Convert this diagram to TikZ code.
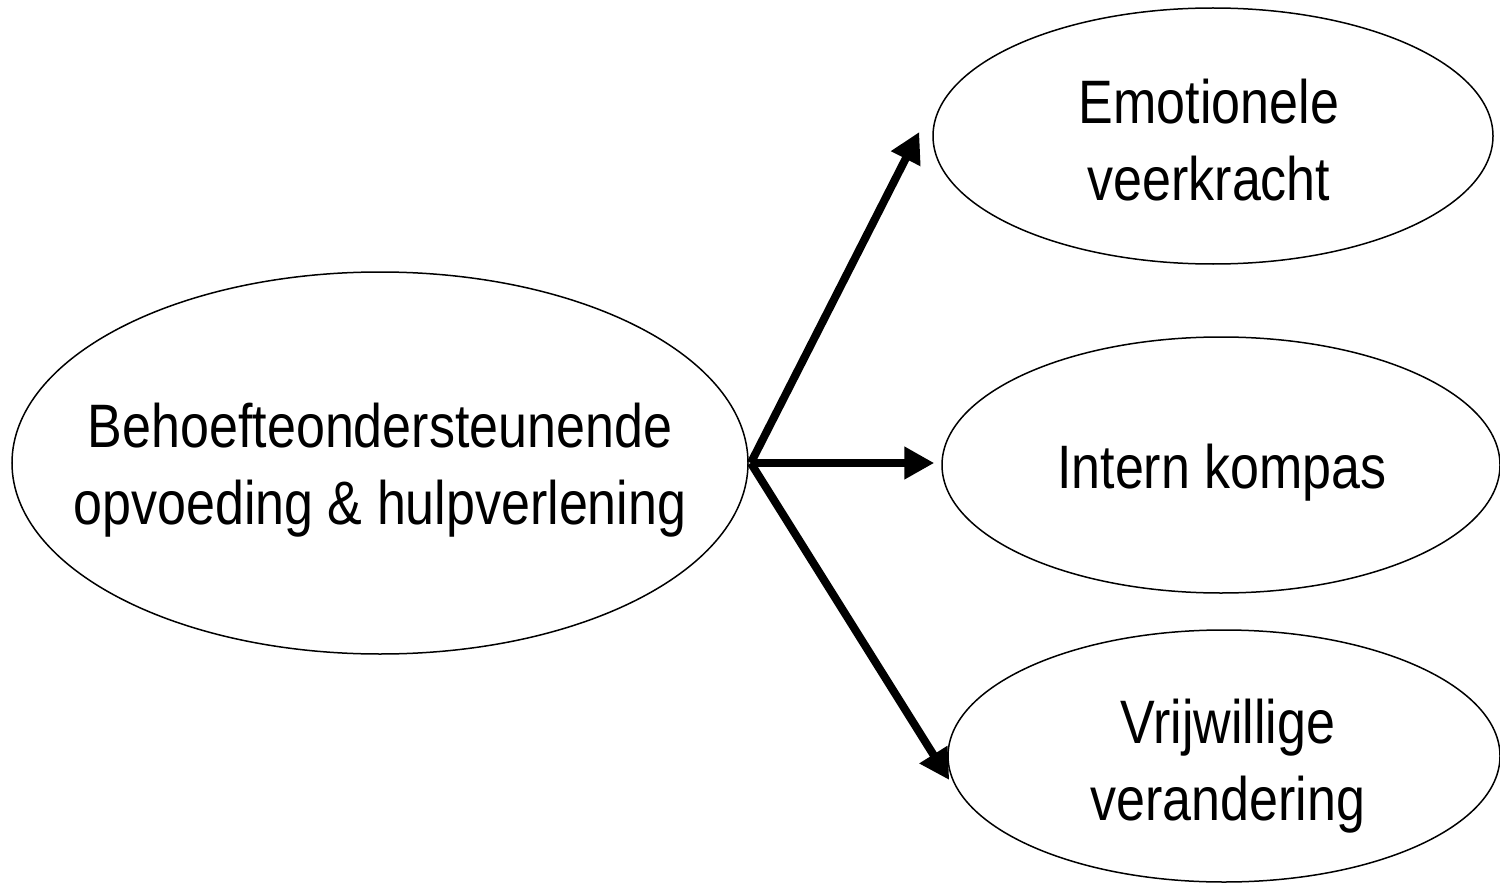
\documentclass[tikz,border=0pt]{standalone}
\usepackage{fontspec}
\setmainfont{Liberation Sans}
\usetikzlibrary{shapes.geometric,arrows.meta}
\newcommand{\tallcell}[1]{\scalebox{1}[1.18]{\begin{tabular}{@{}c@{}}#1\end{tabular}}}
\begin{document}
\begin{tikzpicture}[x=0.5pt,y=-0.5pt,
  oval/.style={ellipse,draw,line width=0.75pt,inner sep=0pt},
  caption/.style={inner sep=0pt,font=\fontsize{26}{32.5}\selectfont},
  flow/.style={line width=4pt,-{Triangle[length=15pt,width=15.5pt]}}]
  \useasboundingbox (0,0) rectangle (1500,883);
  % cause on the left, three outcomes on the right
  \node[oval,minimum width=368pt,minimum height=191pt] (src) at (380,463) {};
  \node[oval,minimum width=280pt,minimum height=128pt] (e1) at (1213,136) {};
  \node[oval,minimum width=279pt,minimum height=128pt] (e2) at (1221,465) {};
  \node[oval,minimum width=276pt,minimum height=126pt] (e3) at (1224,756) {};
  % their texts, slightly stretched upright
  \node[caption] (srcl) at ([shift={(0,8)}]src.center)
    {\tallcell{Behoefteondersteunende\\opvoeding \& hulpverlening}};
  \node[caption] (e1l) at ([shift={(-4,11)}]e1.center) {\tallcell{Emotionele\\veerkracht}};
  \node[caption] (e2l) at ([shift={(1,8)}]e2.center) {\tallcell{Intern kompas}};
  \node[caption] (e3l) at ([shift={(4,11)}]e3.center) {\tallcell{Vrijwillige\\verandering}};
  % arrows fan out from one point just right of the source
  \coordinate (hub) at ([shift={(2,0)}]src.east);
  \coordinate (t1) at ([shift={(-13,-4)}]e1.west);
  \coordinate (t2) at ([shift={(-7,-2)}]e2.west);
  \coordinate (t3) at ([shift={(2,24)}]e3.west);
  \draw[flow] (hub) -- (t1);
  \draw[flow] (hub) -- (t2);
  \draw[flow] (hub) -- (t3);
\end{tikzpicture}
\end{document}
